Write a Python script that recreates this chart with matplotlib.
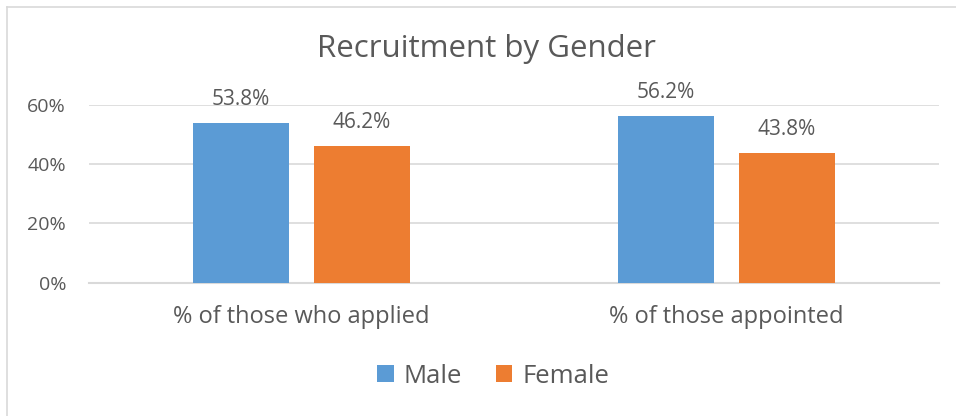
import matplotlib.pyplot as plt
from matplotlib.lines import Line2D

categories = ['% of those who applied', '% of those appointed']
male = [53.8, 56.2]
female = [46.2, 43.8]
series_names = ['Male', 'Female']
yticks = [0, 20, 40, 60]

BLUE = '#5B9BD5'
ORANGE = '#ED7D31'
TEXT = '#595959'
GRID = '#D9D9D9'

plt.rcParams['font.family'] = ['Open Sans', 'DejaVu Sans']


def draw_chart():
    fig = plt.figure(figsize=(9.56, 4.16), dpi=100)
    ax = fig.add_axes([0.0931, 0.3209, 0.8891, 0.4267])

    x = range(len(categories))
    w = 0.226
    off = 0.1425
    b1 = ax.bar([i - off for i in x], male, w, color=BLUE, label=series_names[0], zorder=3)
    b2 = ax.bar([i + off for i in x], female, w, color=ORANGE, label=series_names[1], zorder=3)
    for bars, vals in ((b1, male), (b2, female)):
        for b, v in zip(bars, vals):
            ax.annotate('%.1f%%' % v, (b.get_x() + b.get_width() / 2, v),
                        xytext=(0, 13), textcoords='offset points',
                        ha='center', va='baseline', fontsize=15, color=TEXT)

    ax.set_xlim(-0.5, 1.5)
    ax.set_ylim(0, 60)
    ax.set_yticks(yticks)
    ax.set_yticklabels(['%d%%' % t for t in yticks])
    ax.set_xticks(list(x))
    ax.set_xticklabels(categories)
    ax.tick_params(axis='y', length=0, labelsize=14, labelcolor=TEXT, pad=16.5)
    ax.tick_params(axis='x', length=0, labelsize=17, labelcolor=TEXT, pad=16)
    ax.grid(axis='y', color=GRID, linewidth=1.2, zorder=0)
    for s in ('top', 'right', 'left'):
        ax.spines[s].set_visible(False)
    ax.spines['bottom'].set_color(GRID)
    ax.spines['bottom'].set_linewidth(1.5)

    fig.text(0.509, 0.863, 'Recruitment by Gender', ha='center', va='baseline',
             fontsize=22.5, color=TEXT)
    fig.legend(handles=[b1, b2], loc='center', bbox_to_anchor=(0.516, 0.096),
               ncol=2, frameon=False, fontsize=18.5, labelcolor=TEXT,
               handlelength=0.65, handleheight=0.65, handletextpad=0.4, columnspacing=1.3)

    # chart border (only left and top edges fall inside the image)
    fig.add_artist(Line2D([0.0078, 0.0078], [0, 0.984], transform=fig.transFigure,
                          color=GRID, linewidth=1.2))
    fig.add_artist(Line2D([0.0078, 1], [0.984, 0.984], transform=fig.transFigure,
                          color=GRID, linewidth=1.2))
    fig.savefig('out.png', dpi=100)


if __name__ == '__main__':
    draw_chart()
